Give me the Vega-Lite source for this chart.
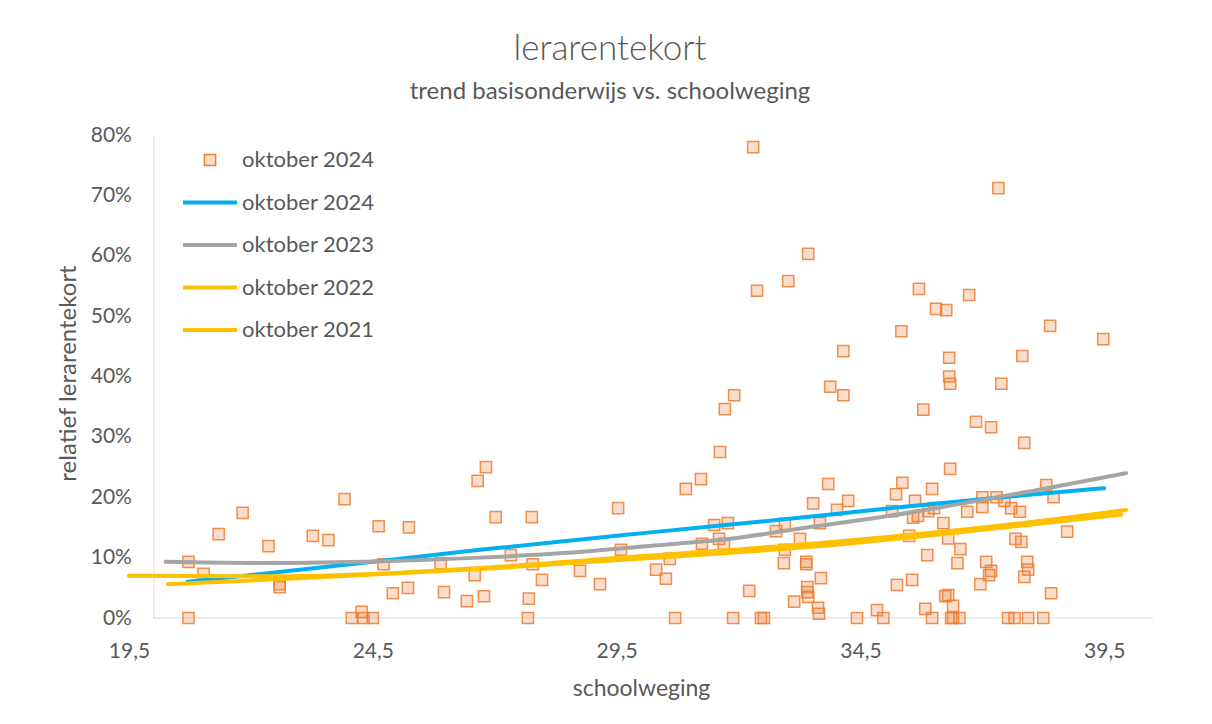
{
  "$schema": "https://vega.github.io/schema/vega-lite/v6.json",
  "width": 1024,
  "height": 483,
  "autosize": {"type": "none"},
  "padding": {"left": 129, "top": 135, "right": 59, "bottom": 106},
  "background": "white",
  "config": {"view": {"stroke": null}, "font": "Lato"},
  "title": {
    "text": "lerarentekort",
    "subtitle": "trend basisonderwijs vs. schoolweging",
    "anchor": "middle",
    "dx": -31,
    "offset": 20,
    "font": "Lato",
    "fontSize": 35,
    "fontWeight": 300,
    "color": "#595959",
    "subtitleFont": "Lato",
    "subtitleFontSize": 24,
    "subtitleColor": "#595959",
    "subtitlePadding": 13
  },
  "datasets": {
    "points": [
      {"schoolweging": 20.72, "lerarentekort": 0.093}, {"schoolweging": 20.72, "lerarentekort": 0},
      {"schoolweging": 21.03, "lerarentekort": 0.073}, {"schoolweging": 21.34, "lerarentekort": 0.139},
      {"schoolweging": 21.83, "lerarentekort": 0.174}, {"schoolweging": 22.36, "lerarentekort": 0.119},
      {"schoolweging": 22.59, "lerarentekort": 0.056}, {"schoolweging": 22.59, "lerarentekort": 0.051},
      {"schoolweging": 23.27, "lerarentekort": 0.136}, {"schoolweging": 23.59, "lerarentekort": 0.129},
      {"schoolweging": 23.92, "lerarentekort": 0.197}, {"schoolweging": 24.07, "lerarentekort": 0},
      {"schoolweging": 24.27, "lerarentekort": 0.010}, {"schoolweging": 24.31, "lerarentekort": 0},
      {"schoolweging": 24.50, "lerarentekort": 0}, {"schoolweging": 24.62, "lerarentekort": 0.152},
      {"schoolweging": 24.72, "lerarentekort": 0.089}, {"schoolweging": 24.91, "lerarentekort": 0.041},
      {"schoolweging": 25.22, "lerarentekort": 0.050}, {"schoolweging": 25.24, "lerarentekort": 0.150},
      {"schoolweging": 25.89, "lerarentekort": 0.091}, {"schoolweging": 25.96, "lerarentekort": 0.043},
      {"schoolweging": 26.43, "lerarentekort": 0.028}, {"schoolweging": 26.59, "lerarentekort": 0.071},
      {"schoolweging": 26.65, "lerarentekort": 0.227}, {"schoolweging": 26.78, "lerarentekort": 0.036},
      {"schoolweging": 26.82, "lerarentekort": 0.250}, {"schoolweging": 27.02, "lerarentekort": 0.167},
      {"schoolweging": 27.33, "lerarentekort": 0.104}, {"schoolweging": 27.68, "lerarentekort": 0},
      {"schoolweging": 27.70, "lerarentekort": 0.032}, {"schoolweging": 27.76, "lerarentekort": 0.167},
      {"schoolweging": 27.78, "lerarentekort": 0.089}, {"schoolweging": 27.97, "lerarentekort": 0.063},
      {"schoolweging": 28.75, "lerarentekort": 0.078}, {"schoolweging": 29.16, "lerarentekort": 0.056},
      {"schoolweging": 29.53, "lerarentekort": 0.182}, {"schoolweging": 29.59, "lerarentekort": 0.113},
      {"schoolweging": 30.31, "lerarentekort": 0.080}, {"schoolweging": 30.51, "lerarentekort": 0.065},
      {"schoolweging": 30.59, "lerarentekort": 0.098}, {"schoolweging": 30.70, "lerarentekort": 0},
      {"schoolweging": 30.92, "lerarentekort": 0.214}, {"schoolweging": 31.23, "lerarentekort": 0.230},
      {"schoolweging": 31.25, "lerarentekort": 0.123}, {"schoolweging": 31.50, "lerarentekort": 0.154},
      {"schoolweging": 31.60, "lerarentekort": 0.131}, {"schoolweging": 31.62, "lerarentekort": 0.275},
      {"schoolweging": 31.70, "lerarentekort": 0.123}, {"schoolweging": 31.72, "lerarentekort": 0.346},
      {"schoolweging": 31.78, "lerarentekort": 0.157}, {"schoolweging": 31.89, "lerarentekort": 0},
      {"schoolweging": 31.91, "lerarentekort": 0.369}, {"schoolweging": 32.22, "lerarentekort": 0.045},
      {"schoolweging": 32.30, "lerarentekort": 0.780}, {"schoolweging": 32.38, "lerarentekort": 0.542},
      {"schoolweging": 32.46, "lerarentekort": 0}, {"schoolweging": 32.52, "lerarentekort": 0},
      {"schoolweging": 32.77, "lerarentekort": 0.144}, {"schoolweging": 32.93, "lerarentekort": 0.091},
      {"schoolweging": 32.95, "lerarentekort": 0.113}, {"schoolweging": 32.95, "lerarentekort": 0.156},
      {"schoolweging": 33.02, "lerarentekort": 0.558}, {"schoolweging": 33.14, "lerarentekort": 0.027},
      {"schoolweging": 33.26, "lerarentekort": 0.131}, {"schoolweging": 33.39, "lerarentekort": 0.093},
      {"schoolweging": 33.39, "lerarentekort": 0.089}, {"schoolweging": 33.41, "lerarentekort": 0.051},
      {"schoolweging": 33.41, "lerarentekort": 0.043}, {"schoolweging": 33.43, "lerarentekort": 0.035},
      {"schoolweging": 33.43, "lerarentekort": 0.603}, {"schoolweging": 33.53, "lerarentekort": 0.190},
      {"schoolweging": 33.63, "lerarentekort": 0.017}, {"schoolweging": 33.65, "lerarentekort": 0.007},
      {"schoolweging": 33.67, "lerarentekort": 0.157}, {"schoolweging": 33.69, "lerarentekort": 0.066},
      {"schoolweging": 33.84, "lerarentekort": 0.222}, {"schoolweging": 33.88, "lerarentekort": 0.383},
      {"schoolweging": 34.02, "lerarentekort": 0.179}, {"schoolweging": 34.15, "lerarentekort": 0.442},
      {"schoolweging": 34.15, "lerarentekort": 0.369}, {"schoolweging": 34.25, "lerarentekort": 0.194},
      {"schoolweging": 34.43, "lerarentekort": 0}, {"schoolweging": 34.84, "lerarentekort": 0.013},
      {"schoolweging": 34.97, "lerarentekort": 0}, {"schoolweging": 35.15, "lerarentekort": 0.177},
      {"schoolweging": 35.23, "lerarentekort": 0.205}, {"schoolweging": 35.25, "lerarentekort": 0.055},
      {"schoolweging": 35.34, "lerarentekort": 0.475}, {"schoolweging": 35.36, "lerarentekort": 0.224},
      {"schoolweging": 35.50, "lerarentekort": 0.136}, {"schoolweging": 35.56, "lerarentekort": 0.063},
      {"schoolweging": 35.58, "lerarentekort": 0.166}, {"schoolweging": 35.62, "lerarentekort": 0.194},
      {"schoolweging": 35.68, "lerarentekort": 0.169}, {"schoolweging": 35.70, "lerarentekort": 0.545},
      {"schoolweging": 35.79, "lerarentekort": 0.345}, {"schoolweging": 35.83, "lerarentekort": 0.015},
      {"schoolweging": 35.87, "lerarentekort": 0.104}, {"schoolweging": 35.89, "lerarentekort": 0.177},
      {"schoolweging": 35.97, "lerarentekort": 0.214}, {"schoolweging": 35.97, "lerarentekort": 0},
      {"schoolweging": 36.01, "lerarentekort": 0.182}, {"schoolweging": 36.05, "lerarentekort": 0.512},
      {"schoolweging": 36.20, "lerarentekort": 0.157}, {"schoolweging": 36.24, "lerarentekort": 0.036},
      {"schoolweging": 36.26, "lerarentekort": 0.510}, {"schoolweging": 36.30, "lerarentekort": 0.038},
      {"schoolweging": 36.30, "lerarentekort": 0.132}, {"schoolweging": 36.32, "lerarentekort": 0.431},
      {"schoolweging": 36.32, "lerarentekort": 0.400}, {"schoolweging": 36.34, "lerarentekort": 0.388},
      {"schoolweging": 36.34, "lerarentekort": 0.247}, {"schoolweging": 36.36, "lerarentekort": 0},
      {"schoolweging": 36.40, "lerarentekort": 0}, {"schoolweging": 36.40, "lerarentekort": 0.020},
      {"schoolweging": 36.49, "lerarentekort": 0.091}, {"schoolweging": 36.53, "lerarentekort": 0},
      {"schoolweging": 36.55, "lerarentekort": 0.114}, {"schoolweging": 36.69, "lerarentekort": 0.176},
      {"schoolweging": 36.73, "lerarentekort": 0.535}, {"schoolweging": 36.87, "lerarentekort": 0.325},
      {"schoolweging": 36.96, "lerarentekort": 0.056}, {"schoolweging": 37.00, "lerarentekort": 0.200},
      {"schoolweging": 37.00, "lerarentekort": 0.184}, {"schoolweging": 37.08, "lerarentekort": 0.093},
      {"schoolweging": 37.14, "lerarentekort": 0.071}, {"schoolweging": 37.18, "lerarentekort": 0.078},
      {"schoolweging": 37.18, "lerarentekort": 0.316}, {"schoolweging": 37.29, "lerarentekort": 0.200},
      {"schoolweging": 37.33, "lerarentekort": 0.712}, {"schoolweging": 37.39, "lerarentekort": 0.388},
      {"schoolweging": 37.45, "lerarentekort": 0.194}, {"schoolweging": 37.53, "lerarentekort": 0},
      {"schoolweging": 37.59, "lerarentekort": 0.182}, {"schoolweging": 37.66, "lerarentekort": 0},
      {"schoolweging": 37.68, "lerarentekort": 0.131}, {"schoolweging": 37.77, "lerarentekort": 0.176},
      {"schoolweging": 37.80, "lerarentekort": 0.126}, {"schoolweging": 37.82, "lerarentekort": 0.434},
      {"schoolweging": 37.86, "lerarentekort": 0.068}, {"schoolweging": 37.86, "lerarentekort": 0.290},
      {"schoolweging": 37.92, "lerarentekort": 0.093}, {"schoolweging": 37.94, "lerarentekort": 0.080},
      {"schoolweging": 37.94, "lerarentekort": 0}, {"schoolweging": 38.25, "lerarentekort": 0},
      {"schoolweging": 38.31, "lerarentekort": 0.220}, {"schoolweging": 38.39, "lerarentekort": 0.484},
      {"schoolweging": 38.41, "lerarentekort": 0.041}, {"schoolweging": 38.46, "lerarentekort": 0.200},
      {"schoolweging": 38.74, "lerarentekort": 0.143}, {"schoolweging": 39.48, "lerarentekort": 0.462}
    ],
    "trends": [
      {"series": "t2024", "schoolweging": 20.7, "lerarentekort": 0.060},
      {"series": "t2024", "schoolweging": 23.7, "lerarentekort": 0.086},
      {"series": "t2024", "schoolweging": 26.7, "lerarentekort": 0.113},
      {"series": "t2024", "schoolweging": 30.1, "lerarentekort": 0.141},
      {"series": "t2024", "schoolweging": 33.5, "lerarentekort": 0.168},
      {"series": "t2024", "schoolweging": 35.5, "lerarentekort": 0.185},
      {"series": "t2024", "schoolweging": 37.8, "lerarentekort": 0.203},
      {"series": "t2024", "schoolweging": 39.5, "lerarentekort": 0.215},
      {"series": "t2023", "schoolweging": 20.25, "lerarentekort": 0.093},
      {"series": "t2023", "schoolweging": 22.3, "lerarentekort": 0.091},
      {"series": "t2023", "schoolweging": 24.7, "lerarentekort": 0.094},
      {"series": "t2023", "schoolweging": 26.7, "lerarentekort": 0.100},
      {"series": "t2023", "schoolweging": 28.5, "lerarentekort": 0.108},
      {"series": "t2023", "schoolweging": 30.1, "lerarentekort": 0.119},
      {"series": "t2023", "schoolweging": 32.0, "lerarentekort": 0.133},
      {"series": "t2023", "schoolweging": 33.5, "lerarentekort": 0.151},
      {"series": "t2023", "schoolweging": 35.0, "lerarentekort": 0.168},
      {"series": "t2023", "schoolweging": 36.4, "lerarentekort": 0.187},
      {"series": "t2023", "schoolweging": 38.0, "lerarentekort": 0.210},
      {"series": "t2023", "schoolweging": 39.95, "lerarentekort": 0.240},
      {"series": "t2022", "schoolweging": 20.3, "lerarentekort": 0.056},
      {"series": "t2022", "schoolweging": 23.0, "lerarentekort": 0.066},
      {"series": "t2022", "schoolweging": 26.7, "lerarentekort": 0.081},
      {"series": "t2022", "schoolweging": 30.1, "lerarentekort": 0.099},
      {"series": "t2022", "schoolweging": 33.5, "lerarentekort": 0.118},
      {"series": "t2022", "schoolweging": 37.0, "lerarentekort": 0.146},
      {"series": "t2022", "schoolweging": 39.85, "lerarentekort": 0.171},
      {"series": "t2021", "schoolweging": 19.5, "lerarentekort": 0.070},
      {"series": "t2021", "schoolweging": 22.3, "lerarentekort": 0.069},
      {"series": "t2021", "schoolweging": 24.5, "lerarentekort": 0.073},
      {"series": "t2021", "schoolweging": 26.7, "lerarentekort": 0.083},
      {"series": "t2021", "schoolweging": 30.1, "lerarentekort": 0.103},
      {"series": "t2021", "schoolweging": 33.5, "lerarentekort": 0.123},
      {"series": "t2021", "schoolweging": 37.8, "lerarentekort": 0.157},
      {"series": "t2021", "schoolweging": 39.95, "lerarentekort": 0.179}
    ]
  },
  "layer": [
    {
      "data": {"values": [{}]},
      "mark": {"type": "rule", "color": "#D9D9D9", "strokeWidth": 1},
      "encoding": {
        "x": {"datum": 20, "type": "quantitative"},
        "x2": {"datum": 40.5},
        "y": {"datum": 0, "type": "quantitative"}
      }
    },
    {
      "data": {"name": "points"},
      "mark": {"type": "square", "size": 125, "fill": "#ED7D31", "fillOpacity": 0.25, "stroke": "#ED7D31", "strokeOpacity": 0.85, "strokeWidth": 1.5},
      "encoding": {
        "x": {
          "field": "schoolweging", "type": "quantitative",
          "scale": {"domain": [19.5, 40.5], "nice": false, "zero": false},
          "axis": {
            "values": [19.5, 24.5, 29.5, 34.5, 39.5],
            "labelExpr": "replace(format(datum.value, '.1f'), '.', ',')",
            "domain": false, "ticks": false, "grid": false,
            "labelFlush": false, "labelOverlap": false, "labelBound": false,
            "labelFont": "Lato", "labelFontSize": 21, "labelColor": "#595959", "labelPadding": 22,
            "title": "schoolweging", "titleFont": "Lato", "titleFontSize": 23, "titleColor": "#595959",
            "titleFontWeight": "normal", "titleY": 70, "titleBaseline": "middle"
          }
        },
        "y": {
          "field": "lerarentekort", "type": "quantitative",
          "scale": {"domain": [0, 0.8], "nice": false},
          "axis": {
            "values": [0, 0.1, 0.2, 0.3, 0.4, 0.5, 0.6, 0.7, 0.8],
            "format": ".0%",
            "domain": true, "domainColor": "#D9D9D9", "domainWidth": 1,
            "offset": -24.4, "ticks": false, "grid": false,
            "labelFlush": false, "labelOverlap": false,
            "labelFont": "Lato", "labelFontSize": 21, "labelColor": "#595959", "labelPadding": 22,
            "title": "relatief lerarentekort", "titleFont": "Lato", "titleFontSize": 24, "titleColor": "#595959",
            "titleFontWeight": "normal", "titleX": -85, "titleY": 238, "titleAngle": -90,
            "titleBaseline": "middle", "titleAlign": "center"
          }
        }
      }
    },
    {
      "data": {"name": "trends"},
      "mark": {"type": "line", "strokeWidth": 4, "interpolate": "monotone", "strokeCap": "round"},
      "encoding": {
        "x": {"field": "schoolweging", "type": "quantitative"},
        "y": {"field": "lerarentekort", "type": "quantitative"},
        "color": {
          "field": "series", "type": "nominal",
          "scale": {"domain": ["p2024", "t2024", "t2023", "t2022", "t2021"], "range": ["#ED7D31", "#00B0F0", "#A5A5A5", "#FFC000", "#FFC000"]},
          "legend": {
            "title": null, "orient": "none", "legendX": 0, "legendY": 14,
            "padding": 0, "rowPadding": 20.5, "labelOffset": 3,
            "labelExpr": "'oktober ' + slice(datum.value, 1)",
            "labelFont": "Lato", "labelFontSize": 22, "labelColor": "#595959",
            "symbolSize": 2916, "symbolStrokeWidth": 4, "symbolType": "stroke",
            "encode": {
              "symbols": {
                "update": {
                  "x": {"value": 81},
                  "shape": {"signal": "datum.value == 'p2024' ? 'square' : 'stroke'"},
                  "size": {"signal": "datum.value == 'p2024' ? 125 : 2916"},
                  "fill": {"signal": "datum.value == 'p2024' ? 'rgba(237,125,49,0.25)' : 'transparent'"},
                  "strokeWidth": {"signal": "datum.value == 'p2024' ? 1.5 : 4"}
                }
              },
              "labels": {
                "update": {
                  "x": {"value": 113},
                  "align": {"value": "left"}
                }
              }
            }
          }
        }
      }
    }
  ]
}
